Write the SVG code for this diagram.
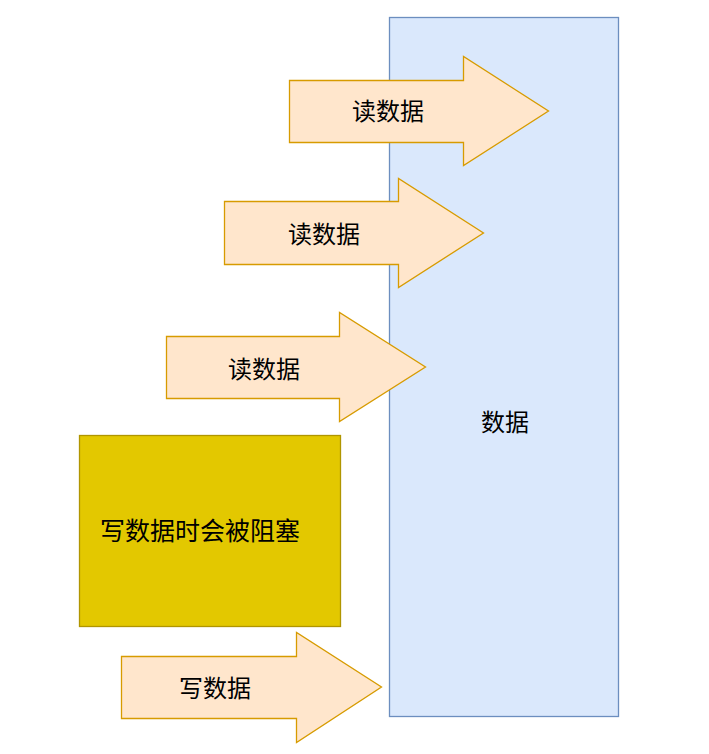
<svg xmlns="http://www.w3.org/2000/svg" width="709" height="754" viewBox="0 0 709 754">
<style>
.arrow{fill:#ffe6cc;stroke:#d79b00;stroke-width:1.3}
.t{font-family:"Liberation Sans","Noto Sans CJK SC",sans-serif;font-size:24px;fill:#000;text-anchor:middle;dominant-baseline:central}
</style>
<rect width="709" height="754" fill="#fff"/>
<g id="data">
<rect x="389.5" y="17.5" width="229" height="699" fill="#dae8fc" stroke="#6c8ebf" stroke-width="1.3"/>
<text class="t" x="505" y="422">数据</text>
</g>
<g id="read1">
<polygon class="arrow" points="289.5,80.5 463.5,80.5 463.5,56.5 548.5,111 463.5,165.5 463.5,142.5 289.5,142.5"/>
<text class="t" x="388" y="111">读数据</text>
</g>
<g id="read2">
<polygon class="arrow" points="224.5,201.5 398.5,201.5 398.5,178.5 483.5,233 398.5,287.5 398.5,264.5 224.5,264.5"/>
<text class="t" x="324" y="234">读数据</text>
</g>
<g id="read3">
<polygon class="arrow" points="166.5,336.5 339.5,336.5 339.5,312.5 425.5,367 339.5,421.5 339.5,398.5 166.5,398.5"/>
<text class="t" x="264" y="369">读数据</text>
</g>
<g id="blocked">
<rect x="79.5" y="435.5" width="261" height="191" fill="#e3c800" stroke="#b09500" stroke-width="1.3"/>
<text class="t" x="200" y="531" style="font-size:25px">写数据时会被阻塞</text>
</g>
<g id="write">
<polygon class="arrow" points="121.5,656.5 296.5,656.5 296.5,632.5 381.5,687 296.5,742.5 296.5,718.5 121.5,718.5"/>
<text class="t" x="215" y="688">写数据</text>
</g>
<g id="connectors"/>
</svg>
